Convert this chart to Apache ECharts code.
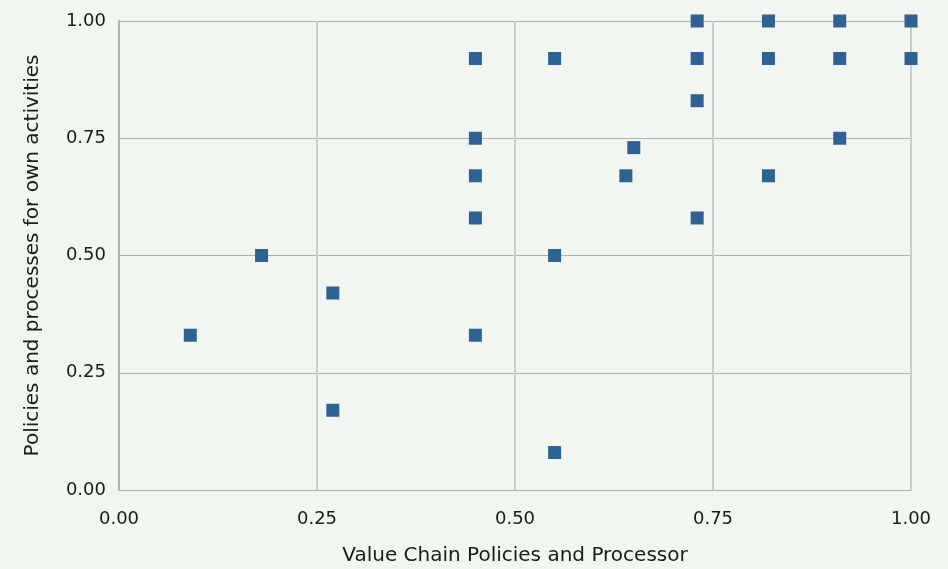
<!DOCTYPE html>
<html><head><meta charset="utf-8">
<script src="https://cdn.jsdelivr.net/npm/echarts@6/dist/echarts.min.js"></script>
<style>html,body{margin:0;padding:0;background:#f1f7f0;}#c{width:948px;height:569px;}</style>
</head><body><div id="c"></div>
<script>
const xValues = [0.09,0.18,0.27,0.27,0.45,0.45,0.45,0.45,0.45,0.55,0.55,0.55,0.65,0.64,0.73,0.73,0.73,0.73,0.82,0.82,0.82,0.91,0.91,0.91,1.00,1.00];
const yValues = [0.33,0.50,0.42,0.17,0.92,0.75,0.67,0.58,0.33,0.92,0.50,0.08,0.73,0.67,1.00,0.92,0.83,0.58,1.00,0.92,0.67,1.00,0.92,0.75,1.00,0.92];
const xName = 'Value Chain Policies and Processor';
const yName = 'Policies and processes for own activities';
const points = xValues.map((x,i)=>[x,yValues[i]]);
const font = '"DejaVu Sans", sans-serif';
const chart = echarts.init(document.getElementById('c'));
chart.setOption({
  backgroundColor:'#f1f7f0',
  animation:false,
  grid:{left:119,right:37,top:21,bottom:79,show:false,containLabel:false,outerBoundsMode:'none'},
  xAxis:{type:'value',min:0,max:1,interval:0.25,
    name:xName,nameLocation:'middle',nameGap:56,
    nameTextStyle:{color:'#1a1a1a',fontSize:20,fontFamily:font},
    axisLine:{show:true,lineStyle:{color:'#b0b0b0',width:1}},
    axisTick:{show:false},
    axisLabel:{color:'#1a1a1a',fontSize:18,fontFamily:font,margin:20,formatter:v=>v.toFixed(2)},
    splitLine:{show:true,lineStyle:{color:'#cccccc',width:2}}},
  yAxis:{type:'value',min:0,max:1,interval:0.25,
    name:yName,nameLocation:'middle',nameGap:76,
    nameTextStyle:{color:'#1a1a1a',fontSize:20,fontFamily:font},
    axisLine:{show:true,lineStyle:{color:'#b0b0b0',width:2}},
    axisTick:{show:false},
    axisLabel:{color:'#1a1a1a',fontSize:18,fontFamily:font,margin:13,formatter:v=>v.toFixed(2)},
    splitLine:{show:true,lineStyle:{color:'#b0b0b0',width:1}}},
  series:[{type:'scatter',symbol:'rect',symbolSize:13,data:points,
    itemStyle:{color:'#2d6294',opacity:1}}]
});
</script></body></html>
